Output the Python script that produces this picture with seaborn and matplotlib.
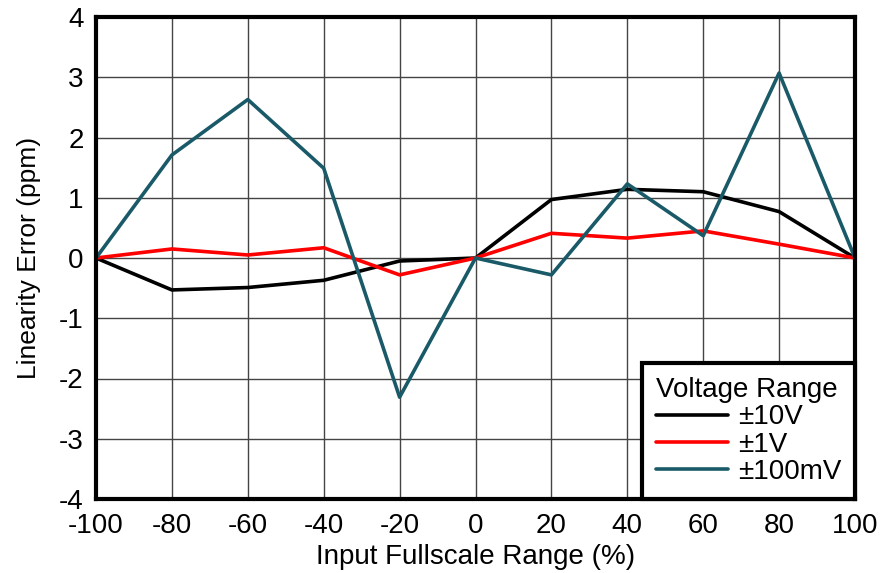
import matplotlib
matplotlib.use("Agg")
import matplotlib.pyplot as plt
import seaborn as sns
import pandas as pd

x_pct = [-100, -80, -60, -40, -20, 0, 20, 40, 60, 80, 100]
err_10v = [0, -0.53, -0.49, -0.37, -0.05, 0, 0.97, 1.14, 1.10, 0.77, 0]
err_1v = [0, 0.15, 0.05, 0.17, -0.28, 0, 0.41, 0.33, 0.45, 0.23, 0]
err_100mv = [0, 1.71, 2.63, 1.49, -2.31, 0, -0.28, 1.23, 0.37, 3.07, 0]
series_names = ["\u00b110V", "\u00b11V", "\u00b1100mV"]
colors = ["#000000", "#ff0000", "#1a5a68"]
x_ticks = [-100, -80, -60, -40, -20, 0, 20, 40, 60, 80, 100]
y_ticks = [-4, -3, -2, -1, 0, 1, 2, 3, 4]

rows = []
for name, vals in zip(series_names, [err_10v, err_1v, err_100mv]):
    for xv, yv in zip(x_pct, vals):
        rows.append({"x": xv, "y": yv, "Voltage Range": name})
df = pd.DataFrame(rows)

sns.set_style("white")
plt.rcParams["font.family"] = ["Liberation Sans", "DejaVu Sans"]
plt.rcParams["axes.unicode_minus"] = False
plt.rcParams["text.color"] = "black"
plt.rcParams["axes.labelcolor"] = "black"

fs = 20

fig = plt.figure(figsize=(8.81, 5.73), dpi=100)
ax = fig.add_axes([96 / 881, 1 - 499 / 573, (855 - 96) / 881, (499 - 17) / 573])

sns.lineplot(data=df, x="x", y="y", hue="Voltage Range", hue_order=series_names,
             palette=colors, linewidth=2.6, ax=ax, sort=False)

ax.set_xlim(-100, 100)
ax.set_ylim(-4, 4)
ax.set_xticks(x_ticks)
ax.set_yticks(y_ticks)
ax.grid(True, color="#444444", linewidth=1.0)
ax.set_axisbelow(True)
for s in ax.spines.values():
    s.set_visible(True)
    s.set_color("black")
    s.set_linewidth(3)
ax.tick_params(axis="y", length=0, labelsize=fs, colors="black", pad=9)
ax.tick_params(axis="x", length=0, labelsize=fs, colors="black", pad=10)
ax.set_xlabel("Input Fullscale Range (%)", fontsize=fs, labelpad=4)
ax.set_ylabel("Linearity Error (ppm)", fontsize=19, labelpad=13)

leg = ax.legend(title="Voltage Range", loc="lower right", frameon=True,
                fancybox=False, borderaxespad=0, fontsize=fs, title_fontsize=fs,
                edgecolor="black", framealpha=1, handlelength=2.6,
                borderpad=0.5, labelspacing=0.05, handletextpad=0.35)
leg.get_frame().set_linewidth(3)
leg._legend_box.align = "left"

fig.savefig("out.png", dpi=100)
